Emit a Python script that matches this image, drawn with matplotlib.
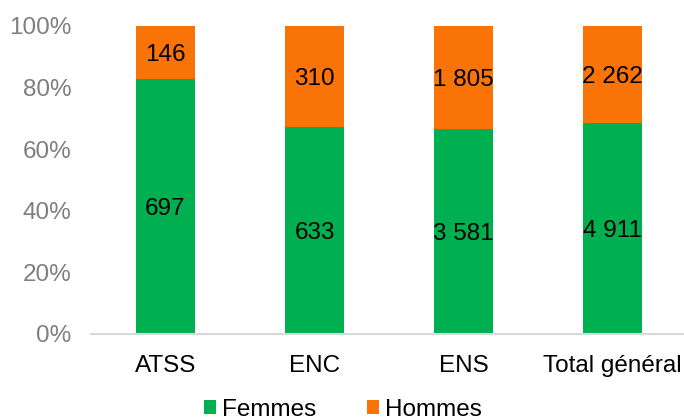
import numpy as np
import matplotlib.pyplot as plt
from matplotlib.ticker import PercentFormatter

plt.rcParams['font.family'] = ['Liberation Sans', 'DejaVu Sans']

categories = ['ATSS', 'ENC', 'ENS', 'Total général']
femmes = np.array([697, 633, 3581, 4911])
hommes = np.array([146, 310, 1805, 2262])
femmes_labels = ['697', '633', '3 581', '4 911']
hommes_labels = ['146', '310', '1 805', '2 262']

vert = '#00B050'
orange = '#F97306'
fs = 17.5

total = femmes + hommes
pf = femmes / total * 100
ph = hommes / total * 100

fig = plt.figure(figsize=(6.84, 4.2), dpi=100)
ax = fig.add_axes([91 / 684, 1 - 334 / 420, 596 / 684, 308 / 420])

x = np.arange(len(categories))
w = 0.4
ax.bar(x, pf, w, color=vert, label='Femmes')
ax.bar(x, ph, w, bottom=pf, color=orange, label='Hommes')

for i in range(len(x)):
    ax.text(x[i], pf[i] / 2, femmes_labels[i], ha='center', va='center_baseline', fontsize=fs)
    ax.text(x[i], pf[i] + ph[i] / 2, hommes_labels[i], ha='center', va='center_baseline', fontsize=fs)

ax.set_xlim(-0.5, len(x) - 0.5)
ax.set_ylim(0, 100)
ax.set_yticks(np.arange(0, 101, 20))
ax.yaxis.set_major_formatter(PercentFormatter(decimals=0))
ax.set_xticks(x)
ax.set_xticklabels(categories)
ax.tick_params(axis='y', length=0, labelsize=fs, labelcolor='#7f7f7f', pad=14)
ax.tick_params(axis='x', length=0, labelsize=fs, pad=15)
for s in ['top', 'right', 'left']:
    ax.spines[s].set_visible(False)
ax.spines['bottom'].set_color('#d9d9d9')
ax.spines['bottom'].set_linewidth(1.5)

fig.legend(loc='center', bbox_to_anchor=(343 / 684, 1 - 410 / 420), ncol=2, frameon=False,
           fontsize=fs, handlelength=0.5, handleheight=0.5, handletextpad=0.25, columnspacing=2.1,
           borderpad=0)

fig.savefig('out.png', dpi=100)
